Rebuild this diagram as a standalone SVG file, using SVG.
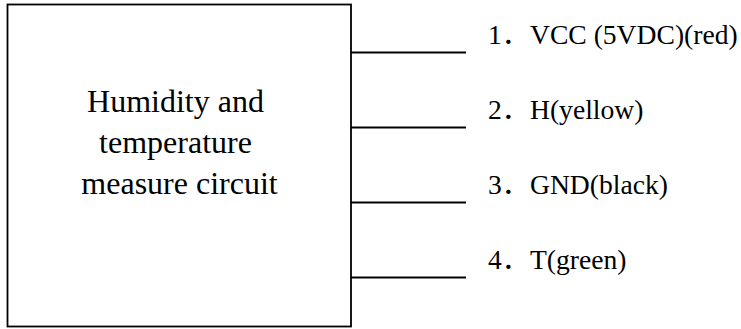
<svg xmlns="http://www.w3.org/2000/svg" width="741" height="329" viewBox="0 0 741 329">
  <style>
    .outline { fill: #ffffff; stroke: #000000; stroke-width: 1.8; }
    .lead { stroke: #000000; stroke-width: 1.8; fill: none; }
    .caption { font-family: "Liberation Serif", "Times New Roman", "Noto Sans CJK SC", serif; font-size: 32px; fill: #000000; text-anchor: middle; }
    .pin { font-family: "Liberation Serif", "Times New Roman", "Noto Sans CJK SC", serif; font-size: 27.6px; fill: #000000; }
  </style>
  <rect width="741" height="329" fill="#ffffff"/>

  <!-- sensor circuit block -->
  <g id="circuit">
    <rect class="outline" x="7.5" y="4.5" width="343.5" height="322"/>
    <text class="caption">
      <tspan x="179.5" y="112">Humidity and</tspan>
      <tspan x="179.5" y="153">temperature</tspan>
      <tspan x="179.5" y="194">measure circuit</tspan>
    </text>
  </g>

  <!-- wire leads out of the block -->
  <g id="leads">
    <line class="lead" x1="351" y1="52.5" x2="466" y2="52.5"/>
    <line class="lead" x1="351" y1="127.5" x2="466" y2="127.5"/>
    <line class="lead" x1="351" y1="202.5" x2="466" y2="202.5"/>
    <line class="lead" x1="351" y1="277.5" x2="466" y2="277.5"/>
  </g>

  <!-- pin labels -->
  <g id="pin1">
    <text class="pin" y="44"><tspan x="488">1．</tspan><tspan x="530">VCC (5VDC)(red)</tspan></text>
  </g>
  <g id="pin2">
    <text class="pin" y="119"><tspan x="488">2．</tspan><tspan x="530">H(yellow)</tspan></text>
  </g>
  <g id="pin3">
    <text class="pin" y="194"><tspan x="488">3．</tspan><tspan x="530">GND(black)</tspan></text>
  </g>
  <g id="pin4">
    <text class="pin" y="269"><tspan x="488">4．</tspan><tspan x="530">T(green)</tspan></text>
  </g>
</svg>
